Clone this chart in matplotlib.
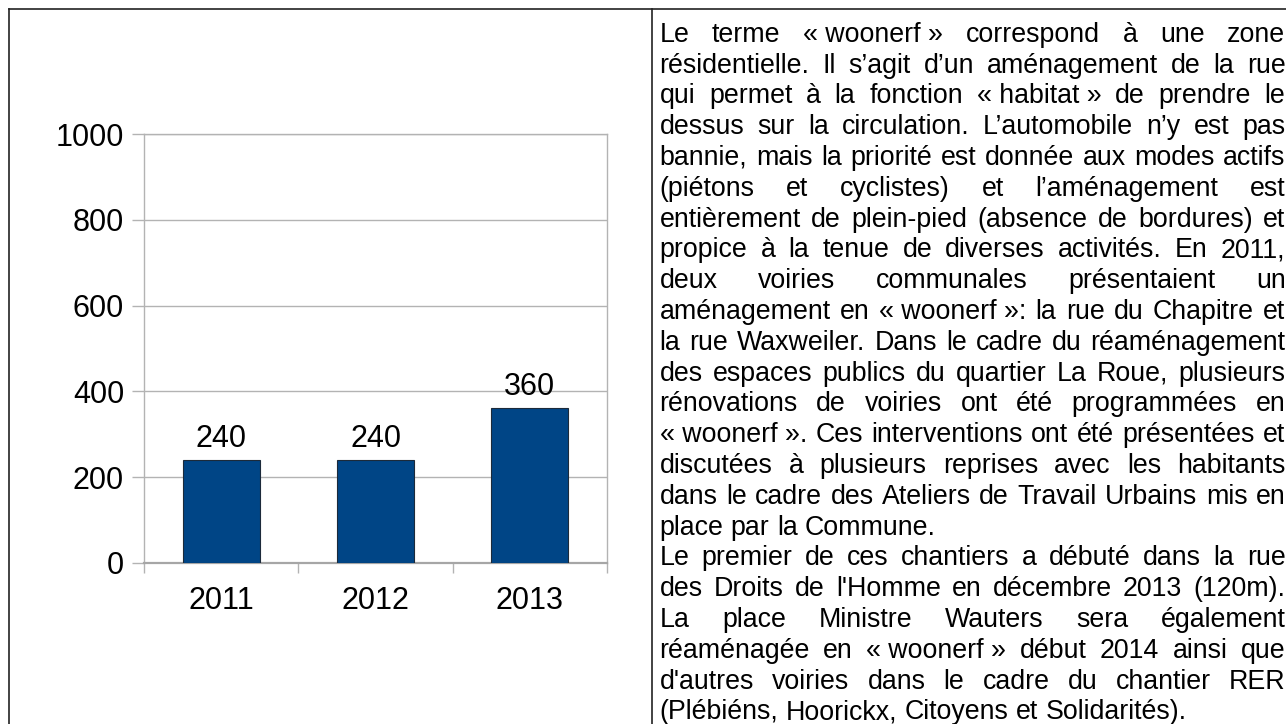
import matplotlib
matplotlib.use("Agg")
import matplotlib.pyplot as plt
from matplotlib.lines import Line2D
from matplotlib.transforms import IdentityTransform

plt.rcParams['font.family'] = ['Liberation Sans', 'DejaVu Sans']

W, H, DPI = 1286, 724, 100

# data
years = ['2011', '2012', '2013']
values = [240, 240, 360]
y_ticks = [0, 200, 400, 600, 800, 1000]

NB = '\u00a0'
text_lines = [
    f"Le terme «{NB}woonerf{NB}» correspond à une zone",
    "résidentielle. Il s’agit d’un aménagement de la rue",
    f"qui permet à la fonction «{NB}habitat{NB}» de prendre le",
    "dessus sur la circulation. L’automobile n’y est pas",
    "bannie, mais la priorité est donnée aux modes actifs",
    "(piétons et cyclistes) et l’aménagement est",
    "entièrement de plein-pied (absence de bordures) et",
    "propice à la tenue de diverses activités. En 2011,",
    "deux voiries communales présentaient un",
    f"aménagement en «{NB}woonerf{NB}»: la rue du Chapitre et",
    "la rue Waxweiler. Dans le cadre du réaménagement",
    "des espaces publics du quartier La Roue, plusieurs",
    "rénovations de voiries ont été programmées en",
    f"«{NB}woonerf{NB}». Ces interventions ont été présentées et",
    "discutées à plusieurs reprises avec les habitants",
    "dans le cadre des Ateliers de Travail Urbains mis en",
    "place par la Commune.",
    "Le premier de ces chantiers a débuté dans la rue",
    "des Droits de l'Homme en décembre 2013 (120m).",
    "La place Ministre Wauters sera également",
    f"réaménagée en «{NB}woonerf{NB}» début 2014 ainsi que",
    "d'autres voiries dans le cadre du chantier RER",
    "(Plébiéns, Hoorickx, Citoyens et Solidarités).",
]
# last line of each paragraph stays ragged
last_lines = {16, 22}

fig = plt.figure(figsize=(W / DPI, H / DPI), dpi=DPI)
fig.patch.set_facecolor('white')

# table-like frame around the two cells
frame_kw = dict(color='#222222', linewidth=1.2, transform=IdentityTransform())
top_y = H - 9.3
fig.add_artist(Line2D([8.7, W], [top_y, top_y], **frame_kw))
fig.add_artist(Line2D([8.7, 8.7], [0, top_y], **frame_kw))
fig.add_artist(Line2D([651.7, 651.7], [0, top_y], **frame_kw))

# bar chart in the left cell
ax_l, ax_r, ax_t, ax_b = 144, 607, 134.3, 562.7
ax = fig.add_axes([ax_l / W, (H - ax_b) / H, (ax_r - ax_l) / W, (ax_b - ax_t) / H])

grid_c = '#b3b3b3'
x = list(range(len(years)))
bars = ax.bar(x, values, width=0.5, color='#004586', edgecolor='#1c2a3a',
              linewidth=0.8, zorder=3)
for xi, v in zip(x, values):
    ax.annotate(str(v), (xi, v), xytext=(0, 9.4), textcoords='offset points',
                ha='center', va='baseline', fontsize=22)

ax.set_xlim(-0.5, 2.5)
ax.set_ylim(0, 1000)
ax.set_yticks(y_ticks)
ax.set_xticks(x)
ax.set_xticklabels(years)
ax.set_xticks([-0.5, 0.5, 1.5, 2.5], minor=True)
ax.yaxis.grid(True, color=grid_c, linewidth=1.0, zorder=0)
ax.set_axisbelow(True)
for s in ax.spines.values():
    s.set_color(grid_c)
    s.set_linewidth(1.0)
ax.spines['bottom'].set_color('#a6a6a6')
ax.spines['bottom'].set_linewidth(1.6)
ax.tick_params(axis='y', length=8.6, width=1.0, color=grid_c, pad=5.8,
               labelsize=22)
ax.tick_params(axis='x', which='major', length=0, pad=17, labelsize=22)
ax.tick_params(axis='x', which='minor', length=7.4, width=1.0, color=grid_c)

# justified text in the right cell
fig.canvas.draw()
renderer = fig.canvas.get_renderer()
txt_left, txt_right = 659.5, 1285.5
font_size = 19.3
base0, step = 41.8, 30.8


def make_word(s, xpos, ypos):
    return fig.text(xpos, ypos, s, fontsize=font_size, ha='left',
                    va='baseline', transform=IdentityTransform())


probe = make_word('a a', 0, -100)
probe2 = make_word('aa', 0, -100)
space_w = (probe.get_window_extent(renderer).width
           - probe2.get_window_extent(renderer).width)
probe.remove()
probe2.remove()

for i, line in enumerate(text_lines):
    ypix = H - (base0 + step * i)
    words = line.split(' ')
    arts = [make_word(w, 0, ypix) for w in words]
    widths = [a.get_window_extent(renderer).width for a in arts]
    if i in last_lines or len(words) == 1:
        gap = space_w
    else:
        gap = (txt_right - txt_left - sum(widths)) / (len(words) - 1)
    xpos = txt_left
    for a, w in zip(arts, widths):
        a.set_x(xpos)
        xpos += w + gap

fig.savefig('out.png', dpi=DPI, facecolor='white')
